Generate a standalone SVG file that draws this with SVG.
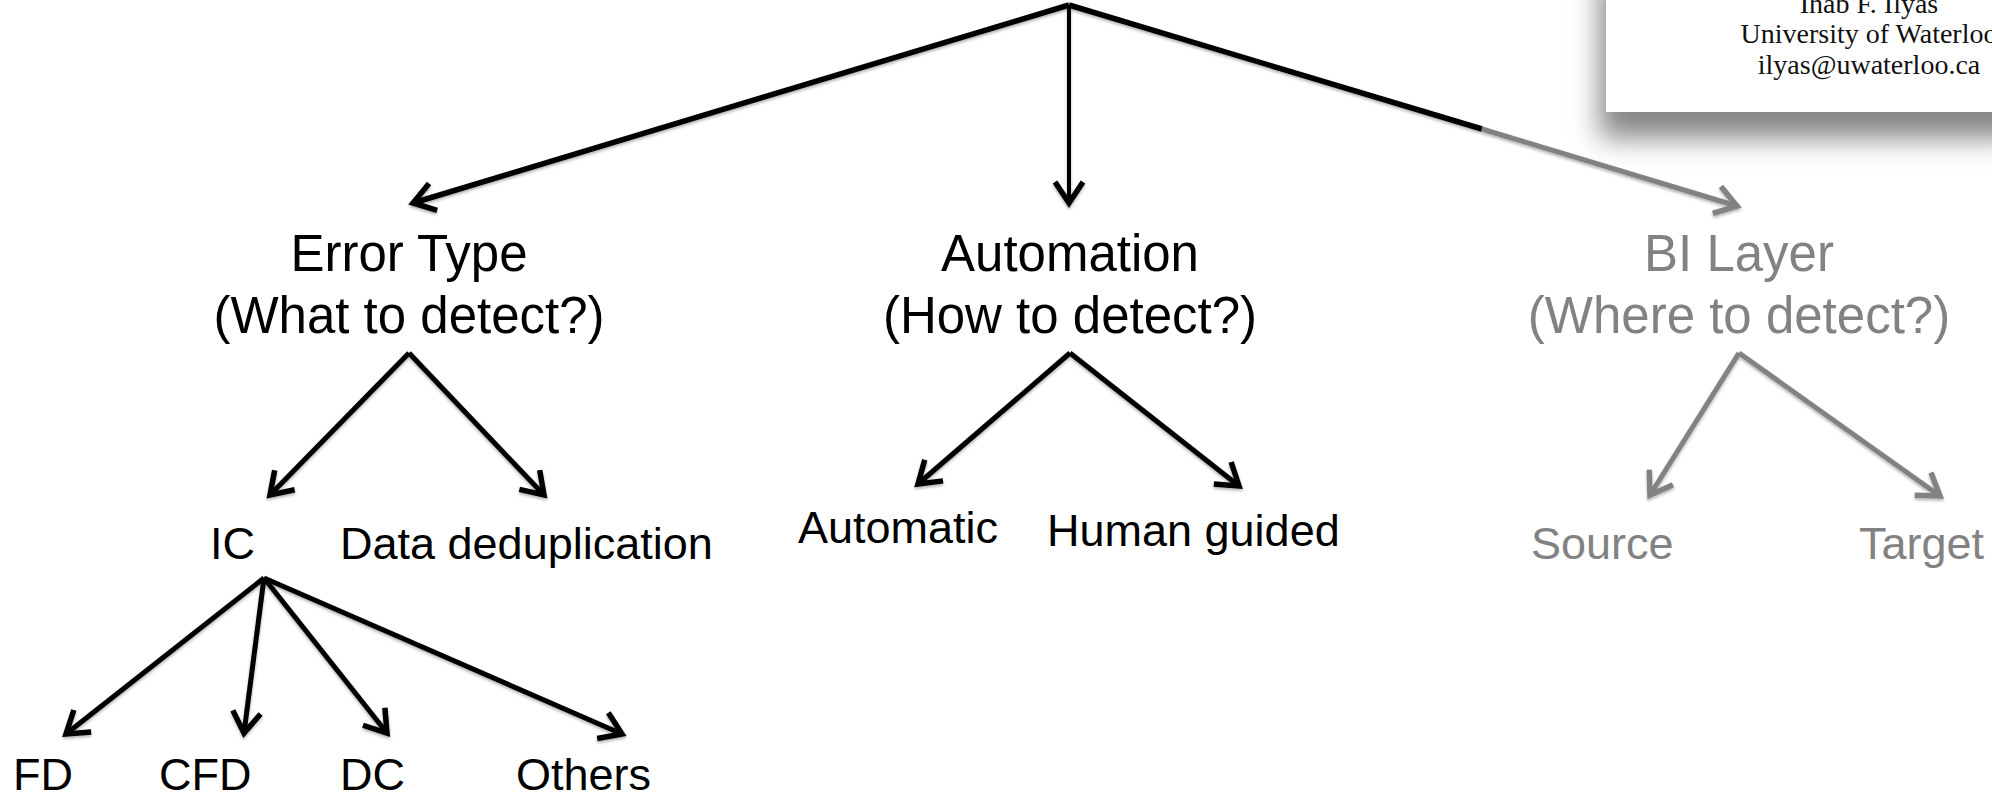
<svg xmlns="http://www.w3.org/2000/svg" width="1992" height="799" viewBox="0 0 1992 799">
  <style>
    .lbl { font-family: "Liberation Sans", Arial, sans-serif; fill: #000; }
    .head { font-size: 51px; text-anchor: middle; }
    .leaf { font-size: 45px; }
    .dim { fill: #828282; }
    .card { font-family: "Liberation Serif", "Times New Roman", serif; font-size: 28px; fill: #111; text-anchor: middle; }
    .edge { fill: none; stroke: #000; stroke-width: 5; }
    .edge-root { fill: none; stroke: #000; stroke-width: 5.5; }
    .edge-thin { fill: none; stroke: #000; stroke-width: 4; }
    .edge-dim { fill: none; stroke: #828282; stroke-width: 5; }
  </style>
  <defs>
    <marker id="head-black" markerUnits="userSpaceOnUse" orient="auto" refX="0" refY="0" markerWidth="40" markerHeight="40" viewBox="-30 -20 40 40" overflow="visible">
      <path d="M-21,-14 L0,0 L-21,14" fill="none" stroke="#000" stroke-width="5.5" stroke-linejoin="miter"/>
    </marker>
    <marker id="head-dim" markerUnits="userSpaceOnUse" orient="auto" refX="0" refY="0" markerWidth="40" markerHeight="40" viewBox="-30 -20 40 40" overflow="visible">
      <path d="M-21,-14 L0,0 L-21,14" fill="none" stroke="#828282" stroke-width="5.5" stroke-linejoin="miter"/>
    </marker>
    <filter id="soft" x="-10%" y="-10%" width="120%" height="130%">
      <feDropShadow dx="0" dy="2" stdDeviation="1.5" flood-color="#000" flood-opacity="0.3"/>
    </filter>
    <filter id="card-shadow" x="-20%" y="-20%" width="140%" height="160%">
      <feGaussianBlur stdDeviation="14"/>
    </filter>
  </defs>

  <rect width="1992" height="799" fill="#fff"/>

  <!-- author card, top right -->
  <g id="author-card">
    <rect x="1600" y="-20" width="420" height="158" fill="#858585" filter="url(#card-shadow)"/>
    <rect x="1606" y="-10" width="400" height="122" fill="#fff"/>
    <text class="card" x="1869" y="13">Ihab F. Ilyas</text>
    <text class="card" x="1869" y="43">University of Waterloo</text>
    <text class="card" x="1869" y="74">ilyas@uwaterloo.ca</text>
  </g>

  <!-- connectors -->
  <g id="connectors" filter="url(#soft)">
    <!-- root to the three dimensions -->
    <line class="edge-root" x1="1069" y1="5" x2="413" y2="203" marker-end="url(#head-black)"/>
    <line class="edge-thin" x1="1069" y1="5" x2="1069" y2="203" marker-end="url(#head-black)"/>
    <line class="edge-root" x1="1069" y1="5" x2="1482" y2="129"/>
    <line class="edge-dim" x1="1482" y1="129" x2="1737" y2="206" marker-end="url(#head-dim)"/>

    <!-- Error Type -->
    <line class="edge" x1="409" y1="353" x2="270" y2="495" marker-end="url(#head-black)"/>
    <line class="edge" x1="409" y1="353" x2="544" y2="495" marker-end="url(#head-black)"/>

    <!-- Automation -->
    <line class="edge" x1="1070" y1="353" x2="918" y2="484" marker-end="url(#head-black)"/>
    <line class="edge" x1="1070" y1="353" x2="1239" y2="486" marker-end="url(#head-black)"/>

    <!-- BI Layer -->
    <line class="edge-dim" x1="1739" y1="353" x2="1650" y2="495" marker-end="url(#head-dim)"/>
    <line class="edge-dim" x1="1739" y1="353" x2="1940" y2="496" marker-end="url(#head-dim)"/>

    <!-- IC -->
    <line class="edge" x1="264" y1="578" x2="66" y2="734" marker-end="url(#head-black)"/>
    <line class="edge" x1="264" y1="578" x2="244" y2="733" marker-end="url(#head-black)"/>
    <line class="edge" x1="264" y1="578" x2="387" y2="733" marker-end="url(#head-black)"/>
    <line class="edge" x1="264" y1="578" x2="622" y2="734" marker-end="url(#head-black)"/>
  </g>

  <!-- dimensions -->
  <g id="error-type">
    <text class="lbl head" x="409" y="271">Error Type</text>
    <text class="lbl head" x="409" y="333">(What to detect?)</text>
  </g>
  <g id="automation">
    <text class="lbl head" x="1070" y="271">Automation</text>
    <text class="lbl head" x="1070" y="333">(How to detect?)</text>
  </g>
  <g id="bi-layer">
    <text class="lbl head dim" x="1739" y="271">BI Layer</text>
    <text class="lbl head dim" x="1739" y="333">(Where to detect?)</text>
  </g>

  <!-- second level -->
  <g id="ic"><text class="lbl leaf" x="210" y="559">IC</text></g>
  <g id="data-dedup"><text class="lbl leaf" x="340" y="559">Data deduplication</text></g>
  <g id="automatic"><text class="lbl leaf" x="798" y="543">Automatic</text></g>
  <g id="human-guided"><text class="lbl leaf" x="1047" y="546">Human guided</text></g>
  <g id="source"><text class="lbl leaf dim" x="1531" y="559">Source</text></g>
  <g id="target"><text class="lbl leaf dim" x="1859" y="559">Target</text></g>

  <!-- integrity constraint kinds -->
  <g id="fd"><text class="lbl leaf" x="13" y="790">FD</text></g>
  <g id="cfd"><text class="lbl leaf" x="159" y="790">CFD</text></g>
  <g id="dc"><text class="lbl leaf" x="340" y="790">DC</text></g>
  <g id="others"><text class="lbl leaf" x="516" y="790">Others</text></g>
</svg>
